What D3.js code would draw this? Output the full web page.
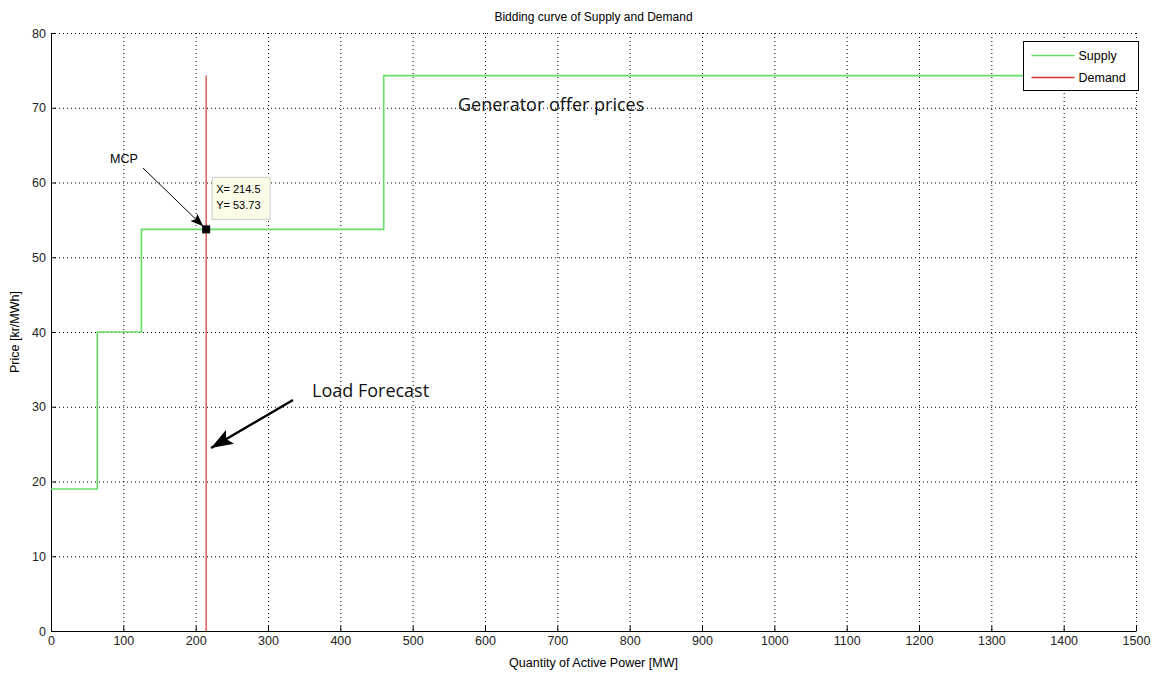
<!DOCTYPE html>
<html>
<head>
<meta charset="utf-8">
<script src="https://cdn.jsdelivr.net/npm/d3@7"></script>
<style>
  body { margin: 0; background: #fff; }
  svg { display: block; }
  .axis text { font-family: "Liberation Sans", Arial, sans-serif; font-size: 12.5px; fill: #222; }
  .note { font-family: "Open Sans", "Lato", sans-serif; font-size: 18px; fill: #111; }
</style>
</head>
<body>
<div id="chart"></div>
<script>
// supply step points (MW, kr/MWh) - last point closes the top step
var supplyQty   = [0, 64, 125, 460, 1500];
var supplyPrice = [19, 40, 53.73, 74.3, 74.3];
// demand: vertical line at load forecast
var demandQty   = [214.5, 214.5];
var demandPrice = [0, 74.3];
var mcp         = { x: 214.5, y: 53.73 };
var xTicks      = [0, 100, 200, 300, 400, 500, 600, 700, 800, 900, 1000, 1100, 1200, 1300, 1400, 1500];
var yTicks      = [0, 10, 20, 30, 40, 50, 60, 70, 80];

var W = 1156, H = 677;
var margin = { top: 33, right: 20, bottom: 46, left: 51 };
var iW = 1136 - margin.left;
var iH = 631 - margin.top;

var svg = d3.select("#chart").append("svg")
    .attr("width", W).attr("height", H);
var g = svg.append("g")
    .attr("transform", "translate(" + margin.left + "," + margin.top + ")");

var x = d3.scaleLinear().domain([0, 1500]).range([0, iW]);
var y = d3.scaleLinear().domain([0, 80]).range([iH, 0]);

/* grid (dotted) */
g.append("g").selectAll("line.gx").data(xTicks).enter().append("line")
    .attr("x1", function (d) { return x(d) + 0.5; }).attr("x2", function (d) { return x(d) + 0.5; })
    .attr("y1", 0).attr("y2", iH)
    .attr("stroke", "#000").attr("stroke-width", 1).attr("stroke-dasharray", "1 3");
g.append("g").selectAll("line.gy").data(yTicks).enter().append("line")
    .attr("x1", 0).attr("x2", iW)
    .attr("y1", function (d) { return y(d) + 0.5; }).attr("y2", function (d) { return y(d) + 0.5; })
    .attr("stroke", "#000").attr("stroke-width", 1).attr("stroke-dasharray", "1 3");

/* axes */
g.append("g").attr("class", "axis")
    .attr("transform", "translate(0," + iH + ")")
    .call(d3.axisBottom(x).tickValues(xTicks).tickFormat(d3.format("d"))
        .tickSize(-5).tickSizeOuter(0).tickPadding(5));
g.append("g").attr("class", "axis")
    .call(d3.axisLeft(y).tickValues(yTicks).tickFormat(d3.format("d"))
        .tickSize(-5).tickSizeOuter(0).tickPadding(5));
g.selectAll(".axis path, .axis line").attr("stroke", "#000");

/* supply */
var supply = supplyQty.map(function (q, i) { return [q, supplyPrice[i]]; });
g.append("path")
    .datum(supply)
    .attr("fill", "none")
    .attr("stroke", "#66dd66")
    .attr("stroke-width", 1.6)
    .attr("d", d3.line()
        .x(function (d) { return x(d[0]); })
        .y(function (d) { return y(d[1]); })
        .curve(d3.curveStepAfter));

/* demand */
var demand = demandQty.map(function (q, i) { return [q, demandPrice[i]]; });
g.append("path")
    .datum(demand)
    .attr("fill", "none")
    .attr("stroke", "#cc3333")
    .attr("stroke-width", 1.2)
    .attr("d", d3.line()
        .x(function (d) { return x(d[0]); })
        .y(function (d) { return y(d[1]); }));

/* data tip */
var mx = x(mcp.x), my = y(mcp.y);
g.append("rect")
    .attr("x", mx - 4).attr("y", my - 4)
    .attr("width", 8).attr("height", 8)
    .attr("fill", "#000");
var tip = g.append("g").attr("transform", "translate(" + (mx + 6) + "," + (my - 32) + ")");
tip.append("rect")
    .attr("width", 58).attr("height", 42).attr("y", -20)
    .attr("fill", "#fbfbe8").attr("stroke", "#ccc");
tip.append("text").attr("x", 4).attr("y", -4)
    .style("font-family", "Liberation Sans, Arial, sans-serif").style("font-size", "11px")
    .text("X= " + mcp.x);
tip.append("text").attr("x", 4).attr("y", 12)
    .style("font-family", "Liberation Sans, Arial, sans-serif").style("font-size", "11px")
    .text("Y= " + mcp.y);

/* arrows */
var defs = svg.append("defs");
function marker(id, len, wid) {
    defs.append("marker")
        .attr("id", id)
        .attr("viewBox", "0 0 10 10")
        .attr("refX", 10).attr("refY", 5)
        .attr("markerUnits", "userSpaceOnUse")
        .attr("markerWidth", len).attr("markerHeight", wid)
        .attr("preserveAspectRatio", "none")
        .attr("orient", "auto")
        .append("path").attr("d", "M0,0 L10,5 L0,10 L2,5 z").attr("fill", "#000");
}
marker("head-small", 13, 10);
marker("head-big", 22, 16);

// MCP label
svg.append("text").attr("x", 110).attr("y", 163)
    .style("font-family", "Liberation Sans, Arial, sans-serif").style("font-size", "12.5px")
    .text("MCP");
svg.append("line")
    .attr("x1", 143).attr("y1", 168).attr("x2", margin.left + mx - 3).attr("y2", margin.top + my - 3)
    .attr("stroke", "#000").attr("stroke-width", 1)
    .attr("marker-end", "url(#head-small)");

// Load forecast
svg.append("text").attr("class", "note").attr("x", 312).attr("y", 397).text("Load Forecast");
svg.append("line")
    .attr("x1", 293).attr("y1", 400).attr("x2", 211).attr("y2", 448)
    .attr("stroke", "#000").attr("stroke-width", 2.5)
    .attr("marker-end", "url(#head-big)");

// Generator offer prices
svg.append("text").attr("class", "note").attr("x", 458).attr("y", 111).text("Generator offer prices");

/* legend */
var leg = svg.append("g").attr("transform", "translate(1023.5,41.5)");
leg.append("rect").attr("width", 115).attr("height", 49)
    .attr("fill", "#fff").attr("stroke", "#000");
[["Supply", "#66dd66", 14], ["Demand", "#cc3333", 36]].forEach(function (d) {
    leg.append("line").attr("x1", 8).attr("x2", 51).attr("y1", d[2]).attr("y2", d[2])
        .attr("stroke", d[1]).attr("stroke-width", 1.5);
    leg.append("text").attr("x", 55).attr("y", d[2] + 4.5)
        .style("font-family", "Liberation Sans, Arial, sans-serif").style("font-size", "12.5px")
        .text(d[0]);
});

/* titles */
svg.append("text")
    .attr("x", margin.left + iW / 2).attr("y", 21)
    .attr("text-anchor", "middle")
    .style("font-family", "Liberation Sans, Arial, sans-serif").style("font-size", "12px")
    .text("Bidding curve of Supply and Demand");
svg.append("text")
    .attr("x", margin.left + iW / 2).attr("y", 667)
    .attr("text-anchor", "middle")
    .style("font-family", "Liberation Sans, Arial, sans-serif").style("font-size", "12.5px")
    .text("Quantity of Active Power [MW]");
svg.append("text")
    .attr("transform", "rotate(-90)")
    .attr("x", -(margin.top + iH / 2)).attr("y", 19)
    .attr("text-anchor", "middle")
    .style("font-family", "Liberation Sans, Arial, sans-serif").style("font-size", "12.5px")
    .text("Price [kr/MWh]");
</script>
</body>
</html>
